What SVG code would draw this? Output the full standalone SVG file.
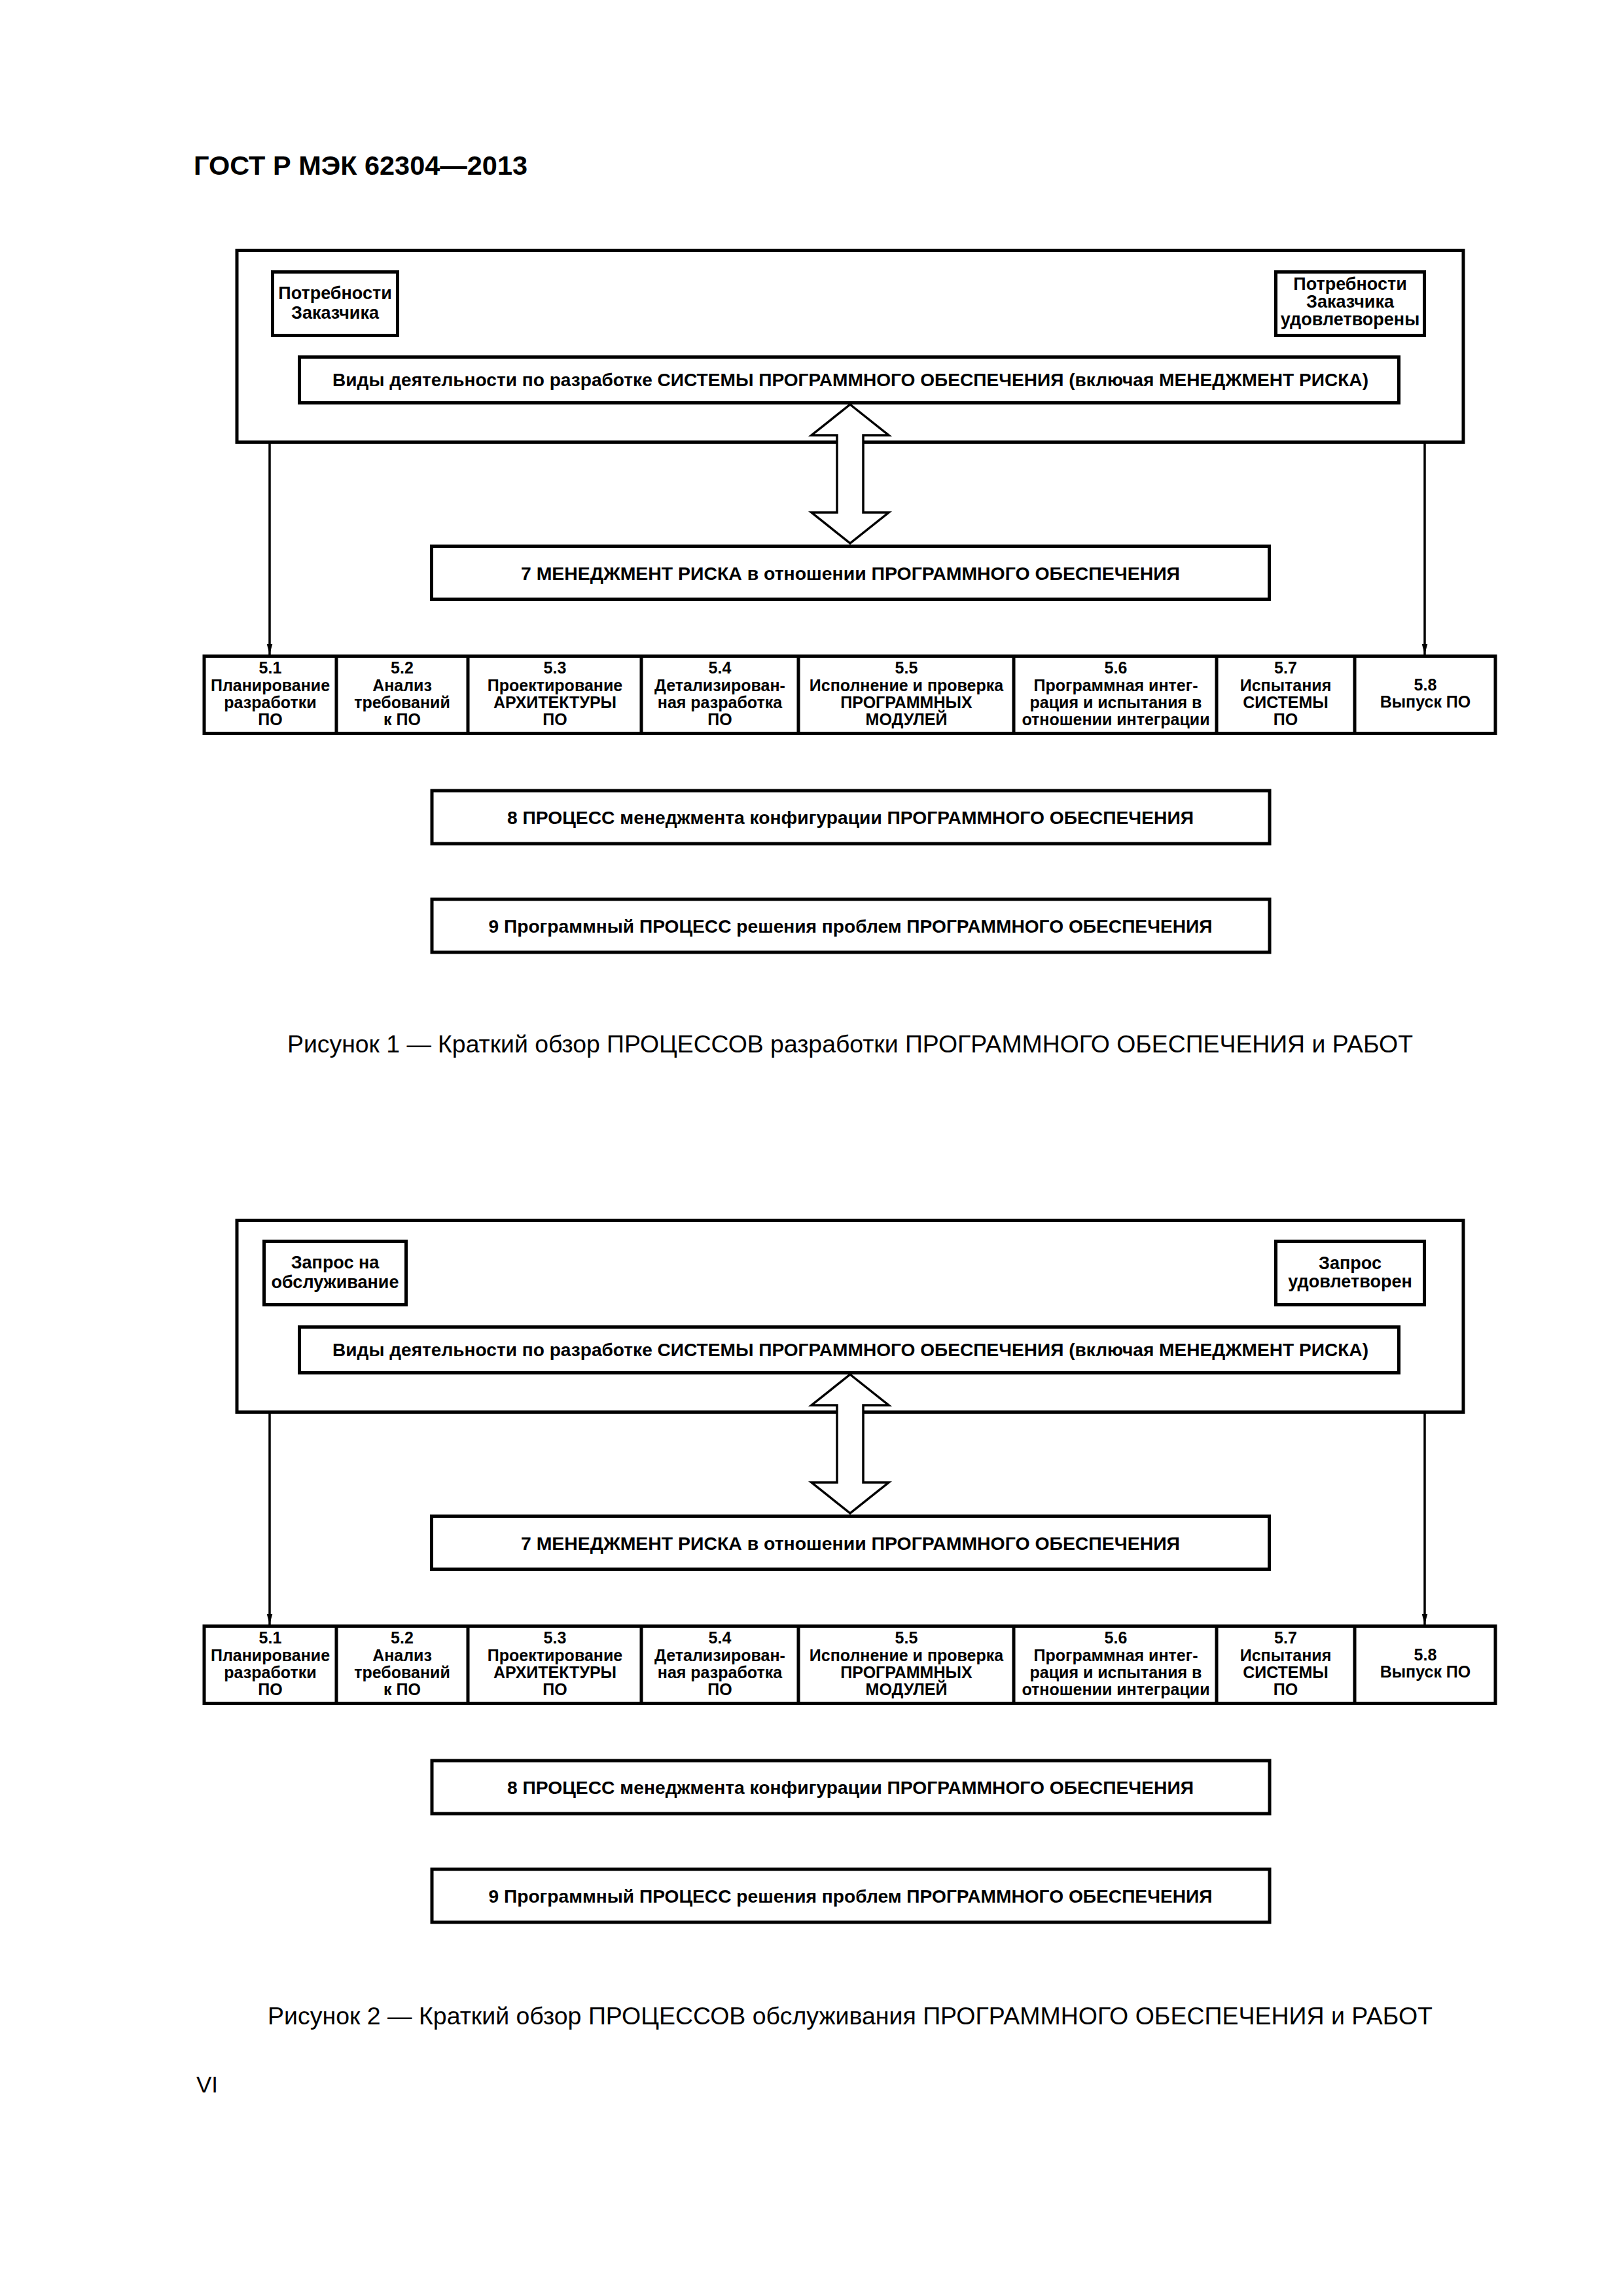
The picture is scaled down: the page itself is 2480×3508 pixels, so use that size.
<svg xmlns="http://www.w3.org/2000/svg" width="2480" height="3508" viewBox="0 0 2480 3508">
<style>
.bx{fill:#fff;stroke:#000;stroke-width:5}
.ln{fill:none;stroke:#000;stroke-width:5}
.con{fill:none;stroke:#000;stroke-width:3.5}
.dbl{fill:#fff;stroke:#000;stroke-width:3.5;stroke-linejoin:miter}
text{font-family:"Liberation Sans",Arial,sans-serif;fill:#000}
.t{font-weight:bold;font-size:28px;text-anchor:middle}
.s{font-weight:bold;font-size:27px;text-anchor:middle}
.r{font-weight:bold;font-size:25px;text-anchor:middle}
.cap{font-size:37px;text-anchor:middle}
.hdr{font-weight:bold;font-size:40px}
</style>
<defs>
<marker id="ah" markerWidth="16" markerHeight="30" refX="30" refY="8" viewBox="0 0 30 16" markerUnits="userSpaceOnUse" orient="auto">
<path d="M0,0 L30,8 L0,16 Z" fill="#000"/>
</marker>
</defs>
<rect width="2480" height="3508" fill="#fff"/>
<text class="hdr" x="296" y="267" textLength="510" lengthAdjust="spacingAndGlyphs">ГОСТ Р МЭК 62304—2013</text>

<!-- ===== Figure 1 ===== -->
<g id="fig1">
<g id="f1-outer"><rect class="bx" x="362" y="382.5" width="1874" height="293"/></g>
<g id="f1-need"><rect class="bx" x="416.5" y="415.5" width="191" height="97"/>
<text class="s" x="512" y="457">Потребности</text><text class="s" x="512" y="487">Заказчика</text></g>
<g id="f1-satisfied"><rect class="bx" x="1949.5" y="415.5" width="227" height="97"/>
<text class="s" x="2063" y="443">Потребности</text><text class="s" x="2063" y="470">Заказчика</text><text class="s" x="2063" y="497">удовлетворены</text></g>
<g id="f1-activities"><rect class="bx" x="457.5" y="545.5" width="1680" height="70"/>
<text class="t" x="1299.5" y="590" textLength="1583" lengthAdjust="spacingAndGlyphs">Виды деятельности по разработке СИСТЕМЫ ПРОГРАММНОГО ОБЕСПЕЧЕНИЯ (включая МЕНЕДЖМЕНТ РИСКА)</text></g>
<g id="f1-risk"><rect class="bx" x="659.5" y="834.5" width="1280" height="81"/>
<text class="t" x="1299.5" y="886" textLength="1007" lengthAdjust="spacingAndGlyphs">7 МЕНЕДЖМЕНТ РИСКА в отношении ПРОГРАММНОГО ОБЕСПЕЧЕНИЯ</text></g>
<g id="f1-row">
<rect class="bx" x="312" y="1002.5" width="1973" height="118"/>
<path class="ln" d="M514,1002.5V1120.5M715,1002.5V1120.5M980,1002.5V1120.5M1220,1002.5V1120.5M1549,1002.5V1120.5M1859,1002.5V1120.5M2070,1002.5V1120.5"/>
<g id="f1-p51"><text class="r" x="413" y="1029">5.1</text><text class="r" x="413" y="1056">Планирование</text><text class="r" x="413" y="1082">разработки</text><text class="r" x="413" y="1108">ПО</text></g>
<g id="f1-p52"><text class="r" x="614.5" y="1029">5.2</text><text class="r" x="614.5" y="1056">Анализ</text><text class="r" x="614.5" y="1082">требований</text><text class="r" x="614.5" y="1108">к ПО</text></g>
<g id="f1-p53"><text class="r" x="848" y="1029">5.3</text><text class="r" x="848" y="1056">Проектирование</text><text class="r" x="848" y="1082">АРХИТЕКТУРЫ</text><text class="r" x="848" y="1108">ПО</text></g>
<g id="f1-p54"><text class="r" x="1100" y="1029">5.4</text><text class="r" x="1100" y="1056">Детализирован-</text><text class="r" x="1100" y="1082">ная разработка</text><text class="r" x="1100" y="1108">ПО</text></g>
<g id="f1-p55"><text class="r" x="1385" y="1029">5.5</text><text class="r" x="1385" y="1056">Исполнение и проверка</text><text class="r" x="1385" y="1082">ПРОГРАММНЫХ</text><text class="r" x="1385" y="1108">МОДУЛЕЙ</text></g>
<g id="f1-p56"><text class="r" x="1705" y="1029">5.6</text><text class="r" x="1705" y="1056">Программная интег-</text><text class="r" x="1705" y="1082">рация и испытания в</text><text class="r" x="1705" y="1108">отношении интеграции</text></g>
<g id="f1-p57"><text class="r" x="1964.5" y="1029">5.7</text><text class="r" x="1964.5" y="1056">Испытания</text><text class="r" x="1964.5" y="1082">СИСТЕМЫ</text><text class="r" x="1964.5" y="1108">ПО</text></g>
<g id="f1-p58"><text class="r" x="2178" y="1055">5.8</text><text class="r" x="2178" y="1081">Выпуск ПО</text></g>
</g>
<g id="f1-config"><rect class="bx" x="660" y="1208" width="1280" height="81"/>
<text class="t" x="1299.5" y="1259" textLength="1049" lengthAdjust="spacingAndGlyphs">8 ПРОЦЕСС менеджмента конфигурации ПРОГРАММНОГО ОБЕСПЕЧЕНИЯ</text></g>
<g id="f1-problem"><rect class="bx" x="660" y="1374" width="1280" height="81"/>
<text class="t" x="1299.5" y="1425" textLength="1106" lengthAdjust="spacingAndGlyphs">9 Программный ПРОЦЕСС решения проблем ПРОГРАММНОГО ОБЕСПЕЧЕНИЯ</text></g>
<g id="f1-connectors">
<path class="con" d="M412,678V1000" marker-end="url(#ah)"/>
<path class="con" d="M2177,678V1000" marker-end="url(#ah)"/>
<polygon class="dbl" points="1299,618 1358,665 1319,665 1319,783 1358,783 1299,830 1240,783 1279,783 1279,665 1240,665"/>
</g>
<text class="cap" x="1299" y="1608" textLength="1720" lengthAdjust="spacingAndGlyphs">Рисунок 1 — Краткий обзор ПРОЦЕССОВ разработки ПРОГРАММНОГО ОБЕСПЕЧЕНИЯ и РАБОТ</text>
</g>

<!-- ===== Figure 2 ===== -->
<g id="fig2">
<g id="f2-outer"><rect class="bx" x="362" y="1864.5" width="1874" height="293"/></g>
<g id="f2-request"><rect class="bx" x="403.5" y="1896.5" width="217" height="97"/>
<text class="s" x="512" y="1938">Запрос на</text><text class="s" x="512" y="1968">обслуживание</text></g>
<g id="f2-done"><rect class="bx" x="1949.5" y="1896.5" width="227" height="97"/>
<text class="s" x="2063" y="1939">Запрос</text><text class="s" x="2063" y="1967">удовлетворен</text></g>
<g id="f2-activities"><rect class="bx" x="457.5" y="2027.5" width="1680" height="70"/>
<text class="t" x="1299.5" y="2072" textLength="1583" lengthAdjust="spacingAndGlyphs">Виды деятельности по разработке СИСТЕМЫ ПРОГРАММНОГО ОБЕСПЕЧЕНИЯ (включая МЕНЕДЖМЕНТ РИСКА)</text></g>
<g id="f2-risk"><rect class="bx" x="659.5" y="2316.5" width="1280" height="81"/>
<text class="t" x="1299.5" y="2368" textLength="1007" lengthAdjust="spacingAndGlyphs">7 МЕНЕДЖМЕНТ РИСКА в отношении ПРОГРАММНОГО ОБЕСПЕЧЕНИЯ</text></g>
<g id="f2-row">
<rect class="bx" x="312" y="2484.5" width="1973" height="118"/>
<path class="ln" d="M514,2484.5V2602.5M715,2484.5V2602.5M980,2484.5V2602.5M1220,2484.5V2602.5M1549,2484.5V2602.5M1859,2484.5V2602.5M2070,2484.5V2602.5"/>
<g id="f2-p51"><text class="r" x="413" y="2511">5.1</text><text class="r" x="413" y="2538">Планирование</text><text class="r" x="413" y="2564">разработки</text><text class="r" x="413" y="2590">ПО</text></g>
<g id="f2-p52"><text class="r" x="614.5" y="2511">5.2</text><text class="r" x="614.5" y="2538">Анализ</text><text class="r" x="614.5" y="2564">требований</text><text class="r" x="614.5" y="2590">к ПО</text></g>
<g id="f2-p53"><text class="r" x="848" y="2511">5.3</text><text class="r" x="848" y="2538">Проектирование</text><text class="r" x="848" y="2564">АРХИТЕКТУРЫ</text><text class="r" x="848" y="2590">ПО</text></g>
<g id="f2-p54"><text class="r" x="1100" y="2511">5.4</text><text class="r" x="1100" y="2538">Детализирован-</text><text class="r" x="1100" y="2564">ная разработка</text><text class="r" x="1100" y="2590">ПО</text></g>
<g id="f2-p55"><text class="r" x="1385" y="2511">5.5</text><text class="r" x="1385" y="2538">Исполнение и проверка</text><text class="r" x="1385" y="2564">ПРОГРАММНЫХ</text><text class="r" x="1385" y="2590">МОДУЛЕЙ</text></g>
<g id="f2-p56"><text class="r" x="1705" y="2511">5.6</text><text class="r" x="1705" y="2538">Программная интег-</text><text class="r" x="1705" y="2564">рация и испытания в</text><text class="r" x="1705" y="2590">отношении интеграции</text></g>
<g id="f2-p57"><text class="r" x="1964.5" y="2511">5.7</text><text class="r" x="1964.5" y="2538">Испытания</text><text class="r" x="1964.5" y="2564">СИСТЕМЫ</text><text class="r" x="1964.5" y="2590">ПО</text></g>
<g id="f2-p58"><text class="r" x="2178" y="2537">5.8</text><text class="r" x="2178" y="2563">Выпуск ПО</text></g>
</g>
<g id="f2-config"><rect class="bx" x="660" y="2690" width="1280" height="81"/>
<text class="t" x="1299.5" y="2741" textLength="1049" lengthAdjust="spacingAndGlyphs">8 ПРОЦЕСС менеджмента конфигурации ПРОГРАММНОГО ОБЕСПЕЧЕНИЯ</text></g>
<g id="f2-problem"><rect class="bx" x="660" y="2856" width="1280" height="81"/>
<text class="t" x="1299.5" y="2907" textLength="1106" lengthAdjust="spacingAndGlyphs">9 Программный ПРОЦЕСС решения проблем ПРОГРАММНОГО ОБЕСПЕЧЕНИЯ</text></g>
<g id="f2-connectors">
<path class="con" d="M412,2160V2482" marker-end="url(#ah)"/>
<path class="con" d="M2177,2160V2482" marker-end="url(#ah)"/>
<polygon class="dbl" points="1299,2100 1358,2147 1319,2147 1319,2265 1358,2265 1299,2312 1240,2265 1279,2265 1279,2147 1240,2147"/>
</g>
<text class="cap" x="1299" y="3093" textLength="1780" lengthAdjust="spacingAndGlyphs">Рисунок 2 — Краткий обзор ПРОЦЕССОВ обслуживания ПРОГРАММНОГО ОБЕСПЕЧЕНИЯ и РАБОТ</text>
</g>
<text x="300" y="3197" style="font-size:35px">VI</text>
</svg>
